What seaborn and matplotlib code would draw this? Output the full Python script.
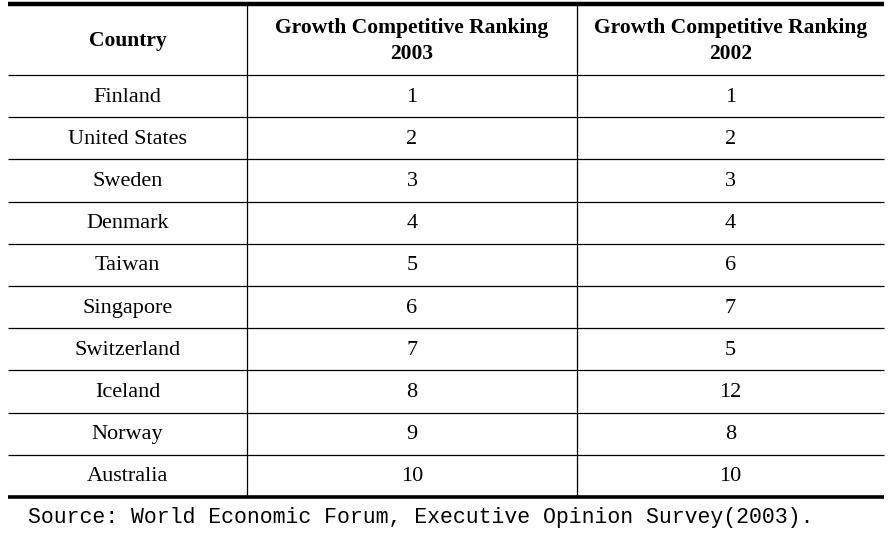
import matplotlib
matplotlib.use("Agg")
import matplotlib.pyplot as plt
import seaborn as sns

# dati della tabella
countries = ["Finland", "United States", "Sweden", "Denmark", "Taiwan",
             "Singapore", "Switzerland", "Iceland", "Norway", "Australia"]
rank_2003 = [1, 2, 3, 4, 5, 6, 7, 8, 9, 10]
rank_2002 = [1, 2, 3, 4, 6, 7, 5, 12, 8, 10]
headers = ["Country", "Growth Competitive Ranking\n2003", "Growth Competitive Ranking\n2002"]
source = "Source: World Economic Forum, Executive Opinion Survey(2003)."

sns.set_theme(style="white")
plt.rcParams["font.family"] = ["Liberation Serif", "DejaVu Serif"]
plt.rcParams["text.color"] = "black"

fig = plt.figure(figsize=(8.88, 5.42), dpi=100)
ax = fig.add_axes([0, 0, 1, 1])
ax.set_xlim(0, 888)
ax.set_ylim(542, 0)
ax.axis("off")

# geometria della tabella (in pixel)
left, right = 8, 884
col_edges = [left, 247, 577, right]
top, head_bottom, row_h = 4, 75, 42.2
n = len(countries)
bottom = head_bottom + n * row_h
col_centers = [(col_edges[i] + col_edges[i + 1]) / 2 for i in range(3)]

# linee
ax.hlines(top, left, right, color="black", lw=3.2)
ax.hlines(bottom, left, right, color="black", lw=2.6)
ax.hlines([head_bottom + i * row_h for i in range(n)], left, right, color="black", lw=0.9)
ax.vlines(col_edges[1:3], top, bottom, color="black", lw=0.9)

# intestazione
for x, h in zip(col_centers, headers):
    ax.text(x, (top + head_bottom) / 2 + 1.5, h, ha="center", va="center",
            fontsize=15.5, fontweight="bold", linespacing=1.45)

# righe
for i in range(n):
    y = head_bottom + (i + 0.5) * row_h + 1
    ax.text(col_centers[0], y, countries[i], ha="center", va="center", fontsize=16)
    ax.text(col_centers[1], y, str(rank_2003[i]), ha="center", va="center", fontsize=16)
    ax.text(col_centers[2], y, str(rank_2002[i]), ha="center", va="center", fontsize=16)

ax.text(28, 517, source, ha="left", va="center", fontsize=15.5,
        family=["Liberation Mono", "DejaVu Sans Mono"])

fig.savefig("out.png", dpi=100)
